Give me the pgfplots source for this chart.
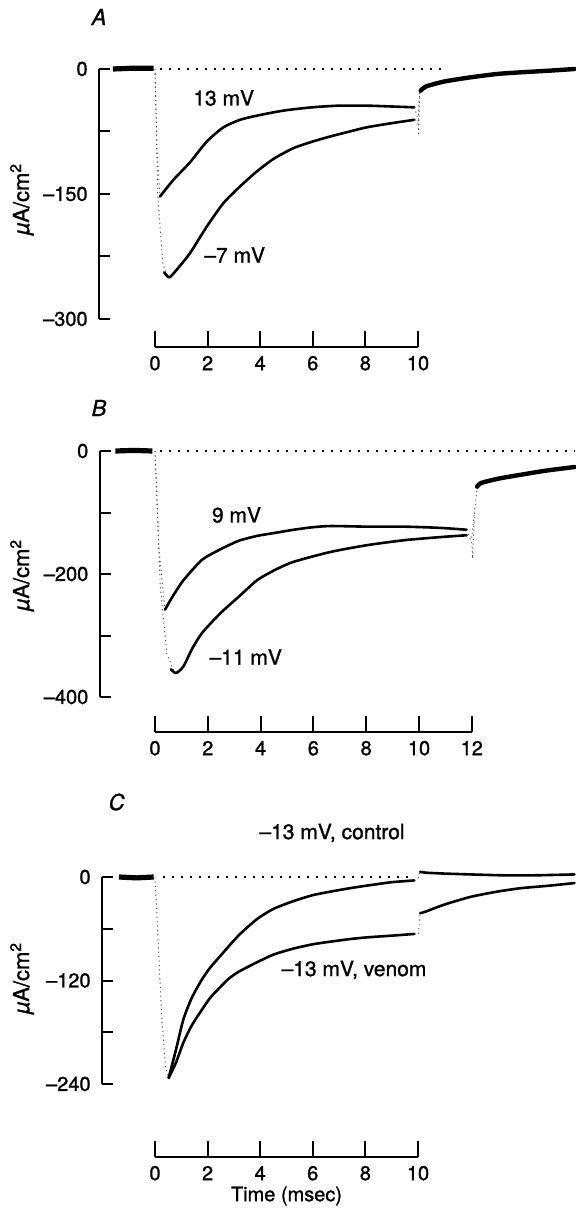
\documentclass[border=0pt]{standalone}
\usepackage{fontspec}
\setmainfont{TeX Gyre Heros}[FakeBold=1.2]
\usepackage{pgfplots}
\pgfplotsset{compat=1.18}
\pgfplotsset{
 trace/.style={black, line width=1.3pt, line join=round, line cap=round, no marks, smooth, tension=0.4},
 both/.style={black, line width=2.2pt, line join=round, line cap=round, no marks, smooth, tension=0.4},
 fast/.style={black!70, line width=0.45pt, dash pattern=on 0.6pt off 1.6pt, no marks},
 base/.style={black, line width=2.6pt, no marks},
 zero/.style={black, line width=0.9pt, dash pattern=on 0.9pt off 3.6pt, no marks},
 panel/.style={axis x line=none, axis y line*=left, enlargelimits=false, clip=false,
   ytick align=inside, major tick length=5.5pt, minor tick length=5.5pt,
   every tick/.append style={black, line width=1pt},
   axis line style={line width=1pt, black},
   yticklabel style={anchor=east, inner sep=0pt, xshift=-5.5pt, font=\fontsize{10}{12}\selectfont},
   ylabel={{\itshape µ}A/cm\textsuperscript{2}},
   ylabel style={font=\fontsize{11}{13}\selectfont, anchor=center}},
 scalebar/.style={axis y line=none, axis x line*=bottom, enlargelimits=false, clip=false,
   xmin=0, ymin=0, ymax=1, y=1pt, xtick align=inside, major tick length=8pt,
   every tick/.append style={black, line width=1pt},
   axis line style={line width=1pt, black},
   xticklabel style={anchor=north, inner sep=0pt, yshift=-4.3pt, font=\fontsize{10}{12}\selectfont},
   xlabel style={font=\fontsize{10}{12}\selectfont}},
}
\begin{document}
\begin{tikzpicture}
\path[use as bounding box] (0,0) rectangle (287.5pt,-606.5pt);
\tikzset{lab/.style={font=\fontsize{10.5}{12}\selectfont, inner sep=0pt}}
% ---------------- Panel A ----------------
\node[lab, font=\fontsize{11}{12}\selectfont\itshape] at (49.5pt,-8.5pt) {A};
\begin{axis}[panel, at={(49.5pt,-159.5pt)}, anchor=south west,
  x=13.15pt, y=0.416667pt, xmin=-2.13, xmax=15.97, ymin=-300, ymax=0,
  ytick={-300,-150,0}, yticklabels={–300,–150,0}, minor ytick={-225,-75},
  ylabel style={at={(axis description cs:-0.1618,0.48)}}]
\addplot[zero] coordinates {(0.2,0) (10.95,0)};
\addplot[base] coordinates {(-1.6,0) (-0.8,1) (-0.05,1)};
\addplot[fast] coordinates {(0,0) (0.08,-100) (0.19,-153)};
\addplot[fast] coordinates {(0,0) (0.1,-150) (0.3,-235) (0.5,-249)};
\addplot[trace] coordinates {(0.19,-153) (0.7,-133) (1.33,-112) (1.97,-87) (2.6,-70) (3.23,-61) (3.87,-56) (4.87,-50) (5.96,-46) (7.0,-44) (8.05,-44) (9.0,-45) (9.86,-46)};
\addplot[trace] coordinates {(0.35,-244) (0.55,-250) (0.9,-238) (1.33,-221) (1.97,-189) (2.6,-161) (3.23,-141) (3.87,-123) (4.5,-108) (5.26,-95) (6.0,-87) (6.66,-81) (7.4,-75) (8.05,-70) (9.0,-65) (9.86,-61)};
\addplot[fast] coordinates {(9.86,-46) (10.0,-60) (10.02,-80) (10.06,-28)};
\addplot[fast] coordinates {(9.86,-61) (10.0,-65) (10.06,-28)};
\addplot[both] coordinates {(10.1,-26) (10.3,-21) (11.0,-15) (12.0,-10) (13.0,-6) (13.9,-4) (15.0,-2) (15.95,0)};
\end{axis}
\begin{axis}[scalebar, at={(77.5pt,-173.5pt)}, anchor=south west,
  x=13.15pt, xmax=10, xtick={0,2,...,10}, xticklabels={0,2,4,6,8,10}]
\addplot[draw=none] coordinates {(0,0) (10,1)};
\end{axis}
\node[lab] at (111.85pt,-49pt) {13 mV};
\node[lab] at (117.35pt,-127.5pt) {–7 mV};
% ---------------- Panel B ----------------
\node[lab, font=\fontsize{11}{12}\selectfont\itshape] at (49.5pt,-204pt) {B};
\begin{axis}[panel, at={(49.85pt,-348.5pt)}, anchor=south west,
  x=13.2pt, y=0.3075pt, xmin=-2.095, xmax=15.9, ymin=-400, ymax=0,
  ytick={-400,-200,0}, yticklabels={–400,–200,0}, minor ytick={-300,-100},
  ylabel style={at={(axis description cs:-0.1635,0.496)}}]
\addplot[zero] coordinates {(0.2,0) (15.9,0)};
\addplot[base] coordinates {(-1.5,0) (-0.8,1) (-0.1,0)};
\addplot[fast] coordinates {(0,0) (0.15,-160) (0.38,-258)};
\addplot[fast] coordinates {(0,0) (0.2,-220) (0.45,-330) (0.75,-361)};
\addplot[trace] coordinates {(0.38,-258) (0.66,-237) (1.08,-210) (1.78,-177) (2.47,-160) (3.17,-146) (3.87,-138) (4.56,-133) (5.26,-128) (5.96,-124) (6.66,-122) (8.05,-123) (9.45,-123) (10.8,-125) (11.8,-128)};
\addplot[trace] coordinates {(0.6,-355) (0.8,-361) (1.08,-350) (1.4,-322) (1.78,-296) (2.47,-264) (3.17,-237) (3.87,-210) (4.56,-193) (5.26,-180) (6.66,-164) (8.05,-153) (9.45,-145) (10.8,-140) (11.8,-137)};
\addplot[fast] coordinates {(11.8,-128) (12.0,-150) (12.03,-175) (12.1,-100) (12.2,-60)};
\addplot[fast] coordinates {(11.8,-137) (12.0,-140) (12.1,-100)};
\addplot[both] coordinates {(12.2,-58) (12.35,-52) (13.0,-45) (13.8,-39) (14.8,-32) (15.9,-26)};
\end{axis}
\begin{axis}[scalebar, at={(77.5pt,-366pt)}, anchor=south west,
  x=13.2pt, xmax=12, xtick={0,2,...,12}, xticklabels={0,2,4,6,8,10,12}]
\addplot[draw=none] coordinates {(0,0) (12,1)};
\end{axis}
\node[lab] at (118.25pt,-257.5pt) {9 mV};
\node[lab] at (122.85pt,-328.5pt) {–11 mV};
% ---------------- Panel C ----------------
\node[lab, font=\fontsize{11}{12}\selectfont\itshape] at (58.3pt,-401pt) {C};
\begin{axis}[panel, at={(51pt,-542pt)}, anchor=south west,
  x=13.15pt, y=0.43125pt, xmin=-2.015, xmax=15.97, ymin=-240, ymax=0,
  ytick={-240,-120,0}, yticklabels={–240,–120,0}, minor ytick={-180,-60},
  ylabel style={at={(axis description cs:-0.169,0.512)}}]
\addplot[zero, line width=0.7pt] coordinates {(0.3,0) (9.8,0)};
\addplot[base] coordinates {(-1.37,0) (-0.7,-1) (-0.05,0)};
\addplot[fast] coordinates {(0,0) (0.1,-60) (0.25,-160) (0.4,-220) (0.52,-233)};
\addplot[trace] coordinates {(0.52,-233) (0.8,-200) (1.08,-165) (1.4,-140) (1.78,-119) (2.1,-105) (2.47,-92) (3.17,-68) (3.87,-49) (4.5,-37) (5.26,-28) (6.0,-21) (6.66,-17) (7.4,-13) (8.05,-10) (9.0,-6) (9.86,-4)};
\addplot[trace] coordinates {(0.52,-233) (0.8,-215) (1.08,-192) (1.4,-172) (1.78,-154) (2.1,-140) (2.47,-128) (2.8,-118) (3.17,-110) (3.87,-99) (4.5,-90) (5.26,-83) (6.0,-78) (6.66,-75) (7.4,-72) (8.05,-70) (9.0,-68) (9.86,-66)};
\addplot[fast] coordinates {(9.86,-4) (10.0,-2) (10.08,6)};
\addplot[fast] coordinates {(9.86,-66) (10.02,-66) (10.08,-42)};
\addplot[trace] coordinates {(10.08,6) (10.3,5) (11.0,4) (12.0,3) (13.2,2) (14.5,2) (15.95,3)};
\addplot[trace] coordinates {(10.08,-42) (10.3,-40) (11.0,-32) (12.0,-23) (13.0,-17) (13.9,-13) (15.0,-10) (15.95,-7)};
\end{axis}
\begin{axis}[scalebar, at={(77.5pt,-578.5pt)}, anchor=south west,
  x=13.15pt, xmax=10, xtick={0,2,...,10}, xticklabels={0,2,4,6,8,10},
  xlabel={Time (msec)}, xlabel style={at={(axis description cs:0.5,0)}, anchor=center, yshift=-19.5pt}]
\addplot[draw=none] coordinates {(0,0) (10,1)};
\end{axis}
\node[lab] at (166pt,-416.5pt) {–13 mV, control};
\node[lab] at (177pt,-485pt) {–13 mV, venom};
\end{tikzpicture}
\end{document}
